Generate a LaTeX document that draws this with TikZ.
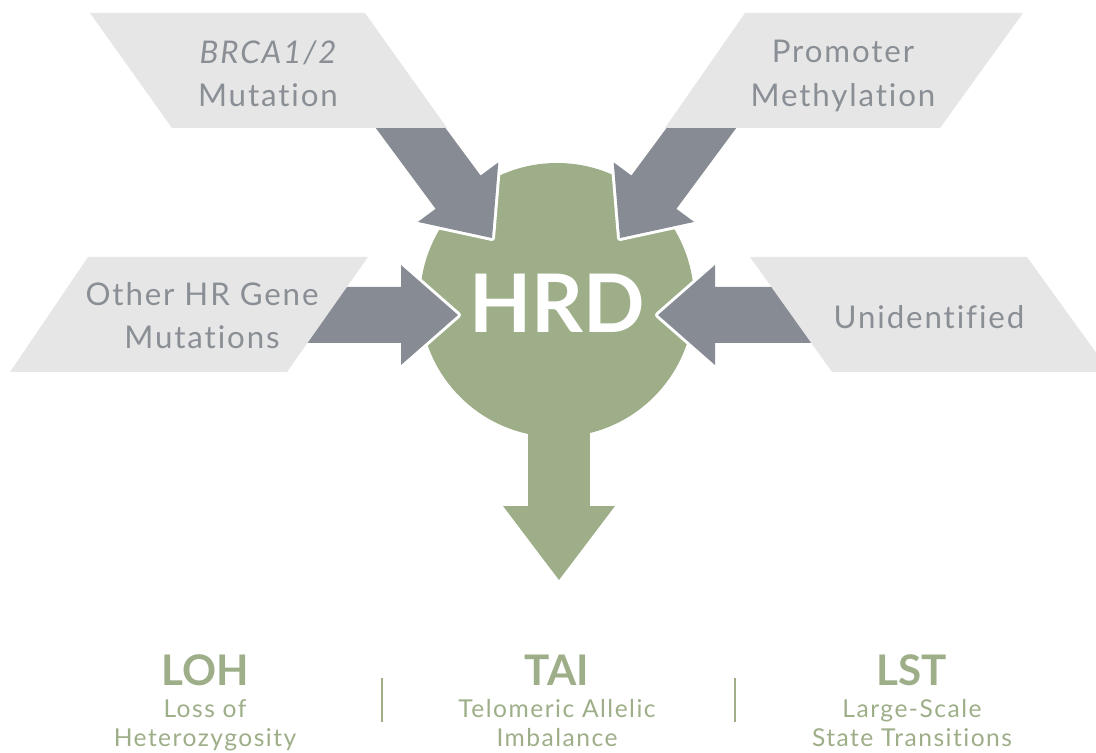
\documentclass[tikz,border=0pt]{standalone}
\usepackage{fontspec}
\setmainfont{Lato}
\newfontfamily\spacedfont[LetterSpace=6,Ligatures=NoCommon]{Lato}
\usetikzlibrary{positioning}
\definecolor{hrdgreen}{RGB}{157,174,136}
\definecolor{arrowgray}{RGB}{135,139,147}
\definecolor{boxgray}{RGB}{230,230,230}
\definecolor{labelgray}{RGB}{138,143,150}

\begin{document}
\begin{tikzpicture}[x=0.02cm,y=-0.02cm,
  box/.style={fill=boxgray},
  feed/.style={fill=arrowgray,preaction={draw=white,line width=3.4pt,line join=round}},
  cause/.style={text=labelgray,align=center,font=\spacedfont\fontsize{17.8}{24.5}\selectfont},
  metric/.style={text=hrdgreen,font=\fontsize{24}{28}\selectfont\bfseries},
  detail/.style={text=hrdgreen,align=center,font=\spacedfont\fontsize{14}{16.5}\selectfont}]
\useasboundingbox (0,0) rectangle (1096,753);
% HRD disc with its stem and head
\fill[hrdgreen] (557,300) circle[radius=137];
\fill[hrdgreen] (528,400) rectangle (590,507);
\fill[hrdgreen] (503,506) -- (615,506) -- (559,580) -- cycle;
\node[text=white,font=\fontsize{46}{46}\selectfont\bfseries] (hrd) at (557,303) {HRD};
% gray arrows pushing into the disc
\foreach \tx/\ty/\ang in {492/238/-53.5,620/238/233.5,458/315/0,658/315/180}
  \fill[feed,shift={(\tx,\ty)},rotate=\ang] (0,0) -- (-57,-50) -- (-57,-28) -- (-160,-28)
    -- (-160,28) -- (-57,28) -- (-57,50) -- cycle;
% slanted boxes for the causes
\fill[box] (90,13) -- (365,13) -- (447,128) -- (172,128) -- cycle;
\fill[box] (745,13) -- (1023,13) -- (940,128) -- (665,128) -- cycle;
\fill[box] (88,257) -- (368,257) -- (287,372) -- (10,372) -- cycle;
\fill[box] (750,257) -- (1027,257) -- (1110,372) -- (832,372) -- cycle;
\node[cause] (brca) at (268,74) {\itshape BRCA1/2\\Mutation};
\node[cause] (promoter) at (843,76) {Promoter\\Methylation};
\node[cause] (otherhr) at (202,316) {Other HR Gene\\Mutations};
\node[cause] (unknown) at (929,317) {Unidentified};
% genomic scars
\node[metric,anchor=base] (loh) at (205,685) {LOH};
\node[metric,anchor=base] (tai) at (557,685) {TAI};
\node[metric,anchor=base] (lst) at (912,685) {LST};
\node[detail,below=1pt of loh] (lohtext) {Loss of\\Heterozygosity};
\node[detail,below=1pt of tai] (taitext) {Telomeric Allelic\\Imbalance};
\node[detail,below=1pt of lst] (lsttext) {Large-Scale\\State Transitions};
\foreach \x in {382,735}
  \draw[hrdgreen,line width=1.4pt] (\x,678) -- (\x,722);
\end{tikzpicture}
\end{document}
